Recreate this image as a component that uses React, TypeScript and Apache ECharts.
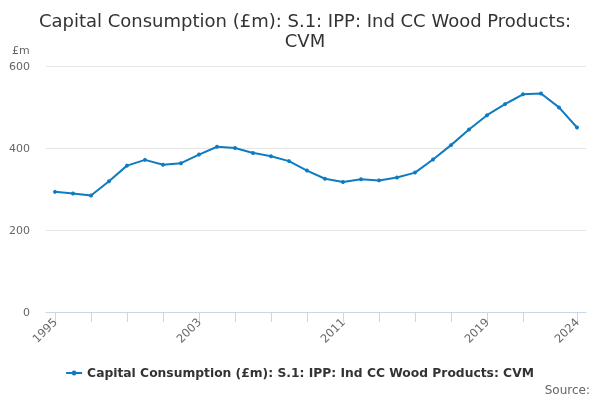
import React, { useEffect, useRef } from "react";
import * as echarts from "echarts";

const years = [
  "1995", "1996", "1997", "1998", "1999", "2000", "2001", "2002", "2003", "2004",
  "2005", "2006", "2007", "2008", "2009", "2010", "2011", "2012", "2013", "2014",
  "2015", "2016", "2017", "2018", "2019", "2020", "2021", "2022", "2023", "2024",
];
const values = [
  293, 289, 284, 319, 357, 371, 359, 363, 384, 403,
  400, 388, 380, 368, 345, 325, 317, 324, 321, 328,
  340, 372, 407, 445, 480, 507, 531, 533, 499, 450,
];
const labelYears = ["1995", "2003", "2011", "2019", "2024"];
const seriesName = "Capital Consumption (£m): S.1: IPP: Ind CC Wood Products: CVM";
const titleText = "Capital Consumption (£m): S.1: IPP: Ind CC Wood Products:\nCVM";

const FONT = "DejaVu Sans";

export default function App() {
  const ref = useRef<HTMLDivElement>(null);
  useEffect(() => {
    if (!ref.current) return;
    const chart = echarts.init(ref.current, undefined, { renderer: "svg" });
    chart.setOption({
      animation: false,
      textStyle: { fontFamily: FONT },
      title: {
        text: titleText,
        left: 300,
        top: 5,
        textAlign: "center",
        textStyle: { fontFamily: FONT, fontSize: 18, fontWeight: "normal", color: "#333333", lineHeight: 20 },
      },
      graphic: [
        { type: "text", left: 12, top: 45, style: { text: "£m", fontFamily: FONT, fontSize: 11, fill: "#666666" } },
        { type: "text", right: 10, top: 384, style: { text: "Source:", fontFamily: FONT, fontSize: 12, fill: "#666666" } },
      ],
      legend: {
        top: 362,
        left: "center",
        itemWidth: 16,
        itemHeight: 6,
        icon: "path://M0,2L16,2L16,4L0,4Z M8,0.5A2.5,2.5 0 1 1 7.99,0.5Z",
        textStyle: { fontFamily: FONT, fontSize: 12.3, fontWeight: "bold", color: "#333333" },
        data: [seriesName],
      },
      grid: { left: 46, right: 14, top: 66, bottom: 88 },
      xAxis: {
        type: "category",
        data: years,
        boundaryGap: true,
        axisLine: { lineStyle: { color: "#ccd6eb" } },
        axisTick: {
          show: true,
          alignWithLabel: true,
          length: 10,
          lineStyle: { color: "#ccd6eb" },
          interval: (i: number) => (i % 2 === 0 && i <= 26) || i === years.length - 1,
        },
        axisLabel: {
          interval: (_i: number, v: string) => labelYears.includes(v),
          rotate: 45,
          fontFamily: FONT,
          fontSize: 11.5,
          color: "#666666",
          margin: 8,
        },
      },
      yAxis: {
        type: "value",
        min: 0,
        max: 600,
        interval: 200,
        axisLine: { show: false },
        axisTick: { show: false },
        splitLine: { lineStyle: { color: "#e6e6e6" } },
        axisLabel: { fontFamily: FONT, fontSize: 11, color: "#666666", margin: 16 },
      },
      series: [
        {
          name: seriesName,
          type: "line",
          data: values,
          color: "#0f7cc1",
          lineStyle: { width: 2 },
          symbol: "circle",
          symbolSize: 4,
        },
      ],
    });
    return () => chart.dispose();
  }, []);
  return <div ref={ref} style={{ position: "fixed", left: 0, top: 0, width: 600, height: 400 }} />;
}
